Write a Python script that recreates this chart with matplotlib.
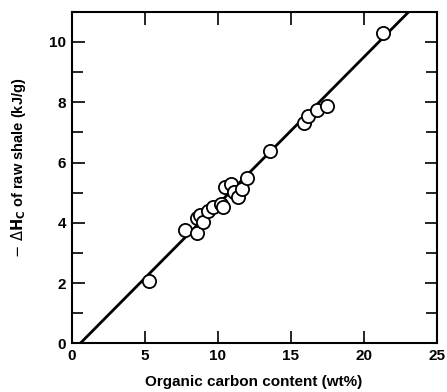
import numpy as np
import matplotlib
matplotlib.use("Agg")
import matplotlib.pyplot as plt

plt.rcParams['font.family'] = ['Liberation Sans', 'DejaVu Sans']

## Data

carbon = [5.3, 7.75, 8.6, 8.6, 8.8, 9.0, 9.35, 9.7, 10.25, 10.4, 10.5,
          10.95, 11.1, 11.4, 11.7, 12.0, 13.6, 15.9, 16.2, 16.8, 17.5, 21.3]
heat = [2.08, 3.77, 3.65, 4.15, 4.25, 4.02, 4.4, 4.51, 4.64, 4.52, 5.18,
        5.3, 5.03, 4.87, 5.12, 5.5, 6.38, 7.3, 7.55, 7.75, 7.88, 10.28]

# fitted straight line
slope = 0.489
intercept = -0.29
fit_x = [0.6, 23.1]

## Plot

fig = plt.figure(figsize=(4.47, 3.92), dpi=100)
ax = fig.add_axes([0.160, 0.124, 0.817, 0.846])

fx = np.array(fit_x)
ax.plot(fx, slope * fx + intercept, color='black', lw=2.0, zorder=2)
ax.plot(carbon, heat, 'o', ms=9.5, mfc='white', mec='black', mew=1.3, zorder=3)

ax.set_xlim(0, 25)
ax.set_ylim(0, 11)
ax.set_xticks([0, 5, 10, 15, 20, 25])
ax.set_yticks([0, 2, 4, 6, 8, 10])
ax.set_yticks([1, 3, 5, 7, 9], minor=True)

ax.tick_params(which='both', direction='in', top=True, right=True, width=1.2)
ax.tick_params(which='major', length=9, labelsize=11, pad=4)
ax.tick_params(which='minor', length=8)
for lab in ax.get_xticklabels() + ax.get_yticklabels():
    lab.set_fontweight('bold')
for s in ax.spines.values():
    s.set_linewidth(1.5)

ax.set_xlabel("Organic carbon content (wt%)", fontsize=11, fontweight='bold')
ax.xaxis.set_label_coords(0.5, -0.095)
ax.set_ylabel(r"$-\ \Delta\mathbf{H}_\mathbf{C}$ of raw shale (kJ/g)", fontsize=10.5,
              fontweight='bold')
ax.yaxis.set_label_coords(-0.12, 0.53)

plt.savefig("out.png", dpi=100)
